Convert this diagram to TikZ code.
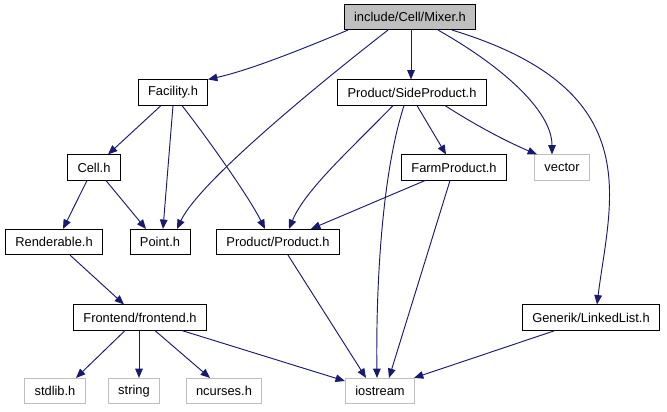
\documentclass[tikz,border=0pt]{standalone}
\usepackage{fontspec}
\setmainfont{Liberation Sans}
\usetikzlibrary{arrows.meta}
\definecolor{edgeblue}{HTML}{191970}
\definecolor{boxgray}{HTML}{BFBFBF}
\tikzset{
  hdr/.style={draw=black, line width=0.8pt, fill=white, font=\fontsize{11}{13}\selectfont,
    minimum height=21.5pt, inner xsep=8.5pt, inner ysep=0pt},
  sys/.style={hdr, draw=boxgray},
  root/.style={hdr, fill=boxgray},
  dep/.style={draw=edgeblue, line width=0.8pt, -{Triangle[length=8pt,width=6.5pt]}}
}
\begin{document}
\begin{tikzpicture}[x=0.03cm, y=-0.03cm]
  \useasboundingbox (0,0) rectangle (667,411);
  % headers
  \node[root] (mixer) at (410,17) {include/Cell/Mixer.h};
  \node[hdr] (facility) at (173,92.5) {Facility.h};
  \node[hdr] (sideproduct) at (412,92.5) {Product/SideProduct.h};
  \node[hdr] (cell) at (94,167.5) {Cell.h};
  \node[hdr] (farmproduct) at (454,167.5) {FarmProduct.h};
  \node[sys] (vector) at (562,167.5) {vector};
  \node[hdr] (renderable) at (54,242) {Renderable.h};
  \node[hdr] (point) at (160,242) {Point.h};
  \node[hdr] (product) at (278,242) {Product/Product.h};
  \node[hdr] (frontend) at (140,317.5) {Frontend/frontend.h};
  \node[hdr] (linkedlist) at (591,317.5) {Generik/LinkedList.h};
  \node[sys] (stdlib) at (55,391) {stdlib.h};
  \node[sys] (string) at (134,391) {string};
  \node[sys] (ncurses) at (224,391) {ncurses.h};
  \node[sys] (iostream) at (380,391) {iostream};
  % includes of Mixer.h
  \draw[dep] (mixer.south -| 348,0) .. controls (300,50) and (250,70) .. (facility.north -| 208,0);
  \draw[dep] (mixer.south -| 388,0) .. controls (330,75) and (200,180) .. (point.north -| 177,0);
  \draw[dep] (mixer.south -| 411,0) -- (sideproduct.north -| 411,0);
  \draw[dep] (mixer.south -| 438,0) .. controls (500,65) and (552,110) .. (vector.north -| 552,0);
  \draw[dep] (mixer.south -| 452,0) .. controls (650,90) and (610,200) .. (linkedlist.north -| 597,0);
  % second row
  \draw[dep] (facility.south -| 161,0) -- (cell.north -| 108,0);
  \draw[dep] (facility.south -| 173,0) -- (point.north -| 163,0);
  \draw[dep] (facility.south -| 182,0) .. controls (205,135) and (248,195) .. (product.north -| 265,0);
  \draw[dep] (sideproduct.south -| 393,0) .. controls (350,150) and (305,190) .. (product.north -| 289,0);
  \draw[dep] (sideproduct.south -| 404,0) .. controls (380,180) and (376,300) .. (iostream.north -| 377,0);
  \draw[dep] (sideproduct.south -| 417,0) -- (farmproduct.north -| 446,0);
  \draw[dep] (sideproduct.south -| 445,0) .. controls (480,128) and (510,143) .. (vector.north -| 537,0);
  % third row
  \draw[dep] (cell.south -| 87,0) -- (renderable.north -| 63,0);
  \draw[dep] (cell.south -| 106,0) -- (point.north -| 146,0);
  \draw[dep] (farmproduct.south -| 425,0) -- (product.north -| 311,0);
  \draw[dep] (farmproduct.south -| 450,0) -- (iostream.north -| 389,0);
  % lower rows
  \draw[dep] (product.south -| 288,0) -- (iostream.north -| 366,0);
  \draw[dep] (renderable.south -| 70,0) -- (frontend.north -| 124,0);
  \draw[dep] (frontend.south -| 125,0) -- (stdlib.north -| 76,0);
  \draw[dep] (frontend.south -| 139,0) -- (string.north -| 139,0);
  \draw[dep] (frontend.south -| 155,0) -- (ncurses.north -| 210,0);
  \draw[dep] (frontend.south -| 182,0) -- (iostream.west |- 0,381);
  \draw[dep] (linkedlist.south -| 555,0) -- (iostream.north -| 414,0);
\end{tikzpicture}
\end{document}
